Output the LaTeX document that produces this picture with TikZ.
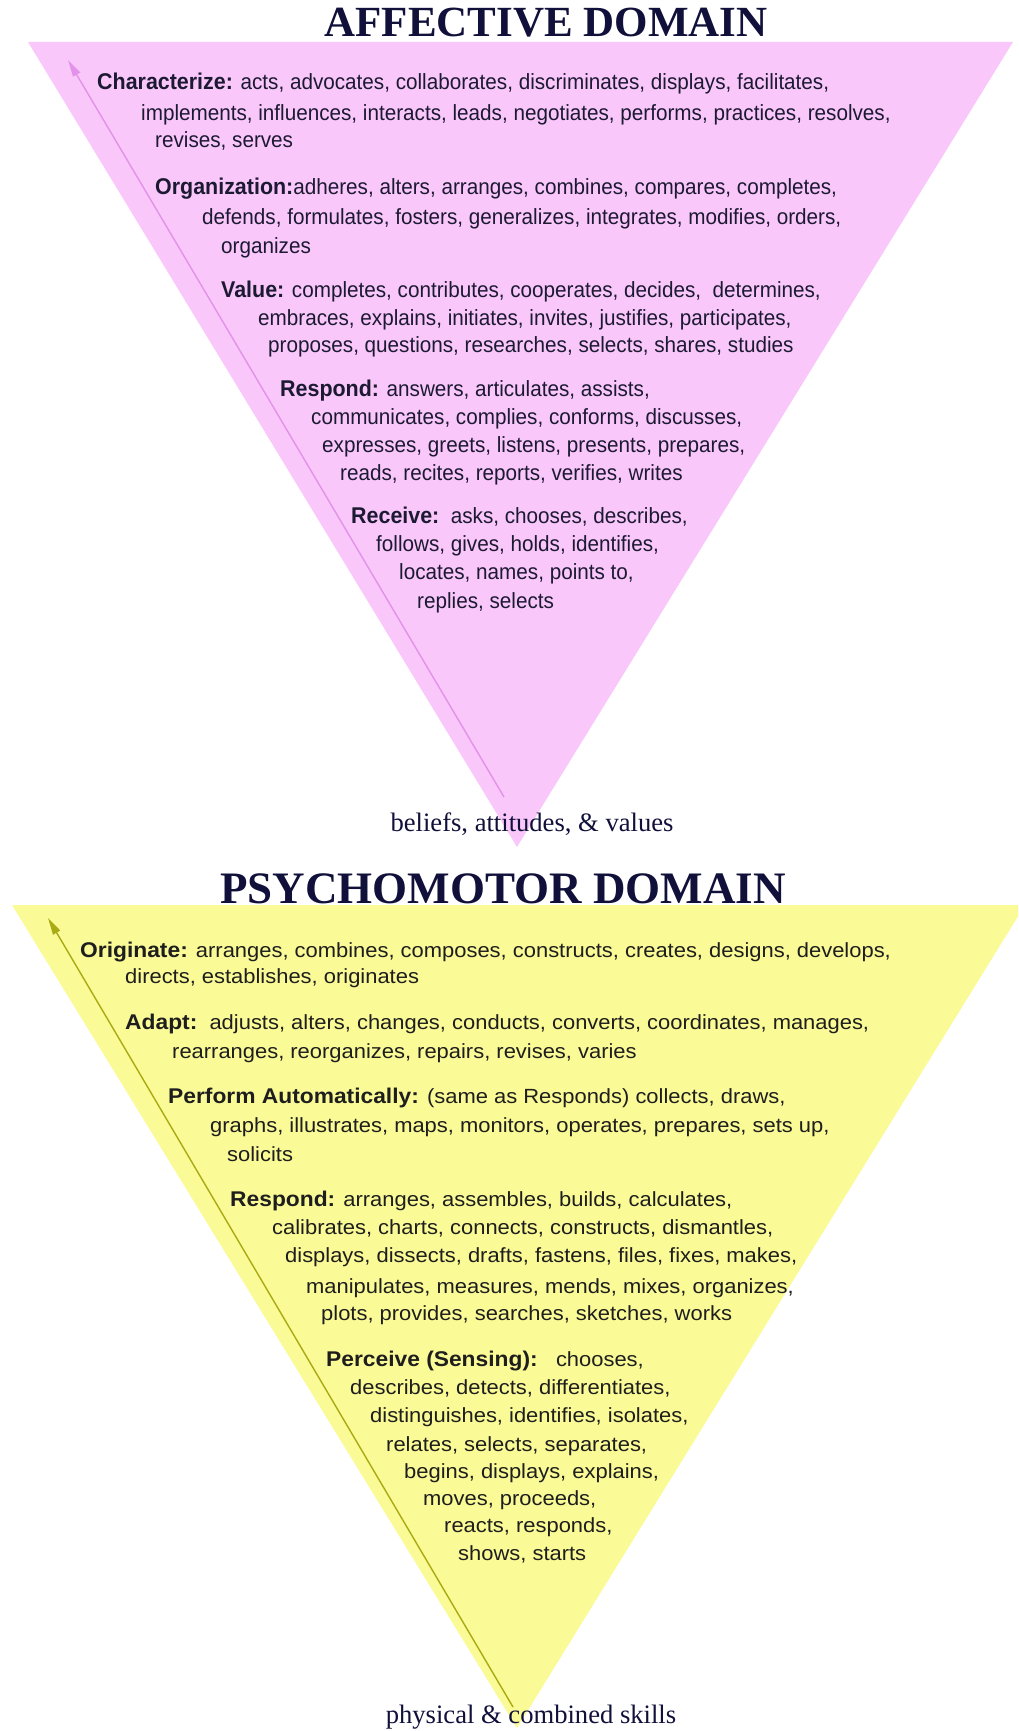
\documentclass[tikz,border=0pt]{standalone}
\usepackage{fontspec}
\setmainfont{Liberation Serif}
\setsansfont{Liberation Sans}
\newfontfamily\narrowsans[FakeStretch=0.94]{Liberation Sans}
\newfontfamily\widesans[FakeStretch=1.07]{Liberation Sans}
\usetikzlibrary{arrows.meta}

\definecolor{affpink}{RGB}{250,199,250}
\definecolor{affline}{RGB}{226,146,232}
\definecolor{psyyellow}{RGB}{250,250,150}
\definecolor{psyline}{RGB}{170,170,20}
\definecolor{psyhead}{RGB}{200,200,30}
\definecolor{titleink}{RGB}{16,16,58}
\definecolor{bodyink}{RGB}{28,26,50}
\definecolor{bodyink2}{RGB}{30,30,30}

% bold level names, set a touch larger than the verb lists
\newcommand\toplbl[1]{{\bfseries\fontsize{22.8}{24}\selectfont #1}}
\newcommand\botlbl[1]{{\bfseries\fontsize{21.3}{24}\selectfont #1}}

\tikzset{
  headline/.style={anchor=base, inner sep=0pt, text=titleink,
    font=\rmfamily\bfseries\fontsize{43}{50}\selectfont},
  baseline label/.style={anchor=base, inner sep=0pt, text=titleink,
    font=\rmfamily\fontsize{26.6}{30}\selectfont},
  wordline/.style={anchor=base west, inner sep=0pt, text=bodyink,
    font=\narrowsans\fontsize{22}{24}\selectfont},
  psyline text/.style={anchor=base west, inner sep=0pt, text=bodyink2,
    font=\widesans\fontsize{20.5}{24}\selectfont},
  upward/.style={line width=1.4pt, -{Triangle[length=17pt,width=8pt]}},
}

\begin{document}
\begin{tikzpicture}[x=1pt,y=-1pt]
\useasboundingbox (0,0) rectangle (1018,1731);
\clip (0,0) rectangle (1018,1731);
\fill[white] (0,0) rectangle (1018,1731);

% ---------- affective domain ----------
\fill[affpink] (28,42) -- (1013,42) -- (517,847) -- cycle;
\node[headline] (afftitle) at (546,37) {AFFECTIVE DOMAIN};

\coordinate (affTail) at (504,797);
\coordinate (affTip) at (68,60);
\draw[upward, draw=affline, fill=affline] (affTail) -- (affTip);

\node[wordline] (ch1) at (97,90)  {\toplbl{Characterize:} acts, advocates, collaborates, discriminates, displays, facilitates,};
\node[wordline] (ch2) at (141,121) {implements, influences, interacts, leads, negotiates, performs, practices, resolves,};
\node[wordline] (ch3) at (155,148) {revises, serves};

\node[wordline] (or1) at (155,195) {\toplbl{Organization:}adheres, alters, arranges, combines, compares, completes,};
\node[wordline] (or2) at (202,224) {defends, formulates, fosters, generalizes, integrates, modifies, orders,};
\node[wordline] (or3) at (221,253) {organizes};

\node[wordline] (va1) at (221,297) {\toplbl{Value:} completes, contributes, cooperates, decides,\ \ determines,};
\node[wordline] (va2) at (258,325) {embraces, explains, initiates, invites, justifies, participates,};
\node[wordline] (va3) at (268,352) {proposes, questions, researches, selects, shares, studies};

\node[wordline] (re1) at (280,396) {\toplbl{Respond:} answers, articulates, assists,};
\node[wordline] (re2) at (311,424) {communicates, complies, conforms, discusses,};
\node[wordline] (re3) at (322,452) {expresses, greets, listens, presents, prepares,};
\node[wordline] (re4) at (340,480) {reads, recites, reports, verifies, writes};

\node[wordline] (rc1) at (351,523) {\toplbl{Receive:}\ \ asks, chooses, describes,};
\node[wordline] (rc2) at (376,551) {follows, gives, holds, identifies,};
\node[wordline] (rc3) at (399,579) {locates, names, points to,};
\node[wordline] (rc4) at (417,608) {replies, selects};

\node[baseline label] (affbase) at (532,831) {beliefs, attitudes, \& values};

% ---------- psychomotor domain ----------
\fill[psyyellow] (12,905) -- (1025,905) -- (517,1728) -- cycle;
\node[headline, font=\rmfamily\bfseries\fontsize{45}{52}\selectfont] (psytitle) at (503,903) {PSYCHOMOTOR DOMAIN};

\coordinate (psyTail) at (513,1707);
\coordinate (psyTip) at (48,918);
\draw[upward, draw=psyline, fill=psyhead] (psyTail) -- (psyTip);

\node[psyline text] (og1) at (80,957)  {\botlbl{Originate:} arranges, combines, composes, constructs, creates, designs, develops,};
\node[psyline text] (og2) at (125,983) {directs, establishes, originates};

\node[psyline text] (ad1) at (125,1029) {\botlbl{Adapt:}\ \ adjusts, alters, changes, conducts, converts, coordinates, manages,};
\node[psyline text] (ad2) at (172,1058) {rearranges, reorganizes, repairs, revises, varies};

\node[psyline text] (pa1) at (168,1103) {\botlbl{Perform Automatically:} (same as Responds) collects, draws,};
\node[psyline text] (pa2) at (210,1132) {graphs, illustrates, maps, monitors, operates, prepares, sets up,};
\node[psyline text] (pa3) at (227,1161) {solicits};

\node[psyline text] (rp1) at (230,1206) {\botlbl{Respond:} arranges, assembles, builds, calculates,};
\node[psyline text] (rp2) at (272,1234) {calibrates, charts, connects, constructs, dismantles,};
\node[psyline text] (rp3) at (285,1262) {displays, dissects, drafts, fastens, files, fixes, makes,};
\node[psyline text] (rp4) at (306,1293) {manipulates, measures, mends, mixes, organizes,};
\node[psyline text] (rp5) at (321,1320) {plots, provides, searches, sketches, works};

\node[psyline text] (pc1) at (326,1366) {\botlbl{Perceive (Sensing):}\ \ \ chooses,};
\node[psyline text] (pc2) at (350,1394) {describes, detects, differentiates,};
\node[psyline text] (pc3) at (370,1422) {distinguishes, identifies, isolates,};
\node[psyline text] (pc4) at (386,1451) {relates, selects, separates,};
\node[psyline text] (pc5) at (404,1478) {begins, displays, explains,};
\node[psyline text] (pc6) at (423,1505) {moves, proceeds,};
\node[psyline text] (pc7) at (444,1532) {reacts, responds,};
\node[psyline text] (pc8) at (458,1560) {shows, starts};

\node[baseline label] (psybase) at (531,1723) {physical \& combined skills};
\end{tikzpicture}
\end{document}
